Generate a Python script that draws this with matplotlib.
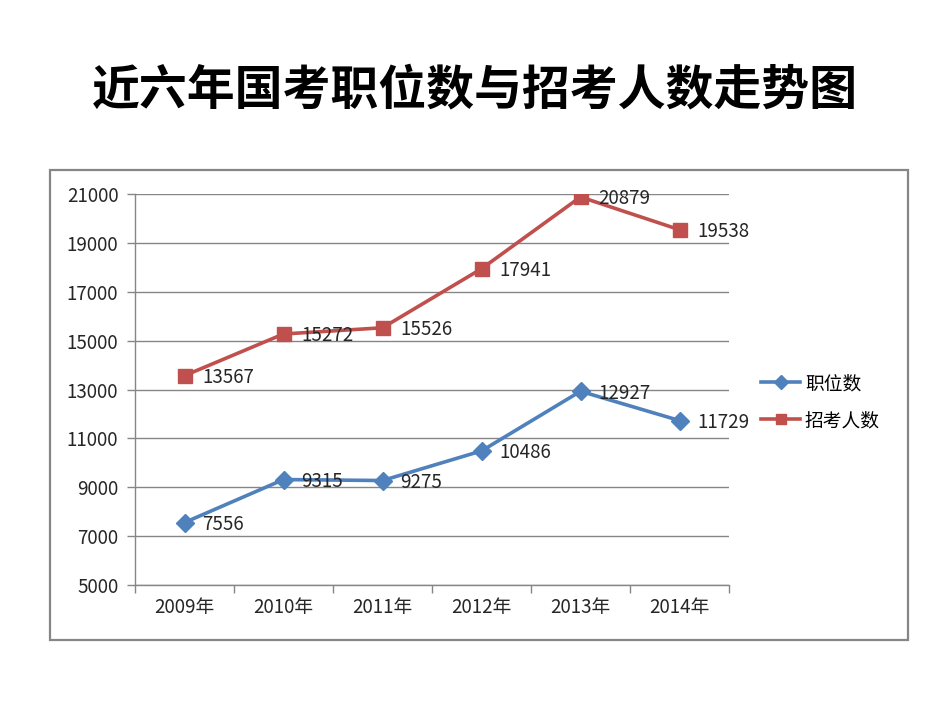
import matplotlib.pyplot as plt
from matplotlib.patches import Rectangle

plt.rcParams['font.family'] = ['Noto Sans CJK SC', 'DejaVu Sans']

years = ["2009年", "2010年", "2011年", "2012年", "2013年", "2014年"]
jobs = [7556, 9315, 9275, 10486, 12927, 11729]
applicants = [13567, 15272, 15526, 17941, 20879, 19538]
yticks = list(range(5000, 21001, 2000))

blue = "#4F81BD"
red = "#C0504D"
grey = "#868686"

fig = plt.figure(figsize=(9.5, 7.13), dpi=100)

# outer chart border
fig.patches.append(Rectangle((50 / 950, 1 - 640 / 713), 858 / 950, 470 / 713,
                             transform=fig.transFigure, fill=False,
                             edgecolor=grey, linewidth=1.6))

fig.text(0.5, 0.874, "近六年国考职位数与招考人数走势图", ha="center", va="center",
         fontsize=34.5, fontweight="bold", color="black")

ax = fig.add_axes([135 / 950, 1 - 585 / 713, 594 / 950, 391 / 713])
x = list(range(len(years)))

ax.plot(x, jobs, color=blue, lw=2.6, marker="D", ms=9, label="职位数", zorder=3)
ax.plot(x, applicants, color=red, lw=2.6, marker="s", ms=10.5, label="招考人数", zorder=3)

for xi, v in zip(x, jobs):
    ax.annotate(str(v), (xi, v), textcoords="offset pixels", xytext=(18, -2),
                ha="left", va="center", fontsize=13.5, color="#262626")
for xi, v in zip(x, applicants):
    ax.annotate(str(v), (xi, v), textcoords="offset pixels", xytext=(18, -2),
                ha="left", va="center", fontsize=13.5, color="#262626")

ax.set_xlim(-0.5, len(years) - 0.5)
ax.set_ylim(5000, 21000)
ax.set_yticks(yticks)
ax.set_yticklabels([str(t) for t in yticks], fontsize=13.5, color="#262626")
ax.set_xticks(x)
ax.set_xticklabels(years, fontsize=13.5, color="#262626")
ax.set_xticks([i - 0.5 for i in range(len(years) + 1)], minor=True)
ax.tick_params(axis="x", which="major", length=0, pad=9)
ax.tick_params(axis="x", which="minor", length=6, color=grey, width=1)
ax.tick_params(axis="y", length=6, color=grey, width=1, pad=6)

ax.grid(axis="y", color=grey, lw=1)
ax.set_axisbelow(True)
for s in ["top", "right"]:
    ax.spines[s].set_visible(False)
for s in ["left", "bottom"]:
    ax.spines[s].set_color(grey)
    ax.spines[s].set_linewidth(1)

fig.legend(loc="center left", bbox_to_anchor=(744 / 950, 1 - 402 / 713),
           frameon=False, fontsize=13.5, handlelength=2.1, labelspacing=0.85,
           handletextpad=0.25, markerscale=0.75)

fig.savefig("out.png", dpi=100)
